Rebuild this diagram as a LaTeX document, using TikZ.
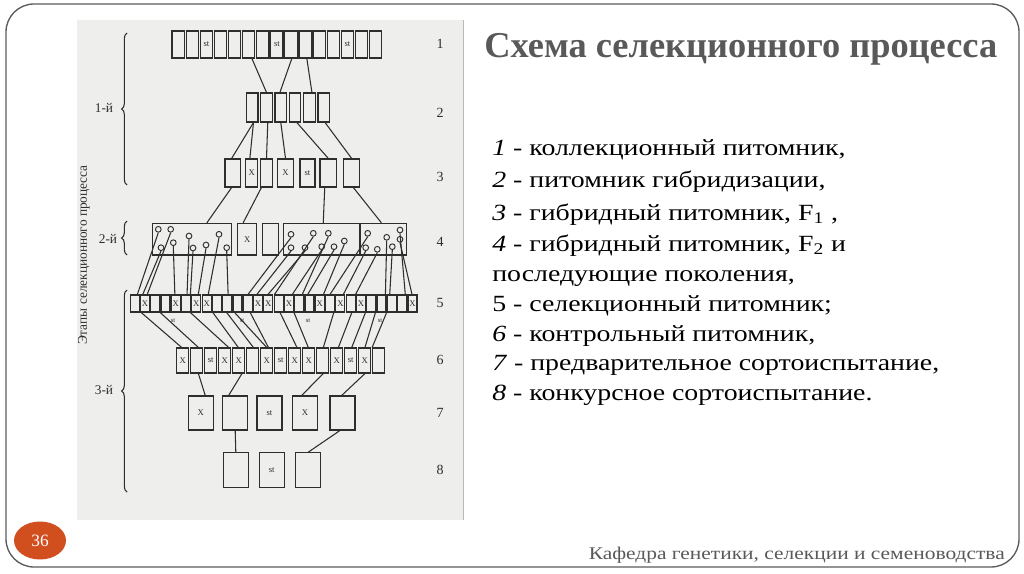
\documentclass[tikz,border=0pt]{standalone}
\usepackage{fontspec}
\setmainfont{Liberation Serif}
\newfontfamily\bodyfont{Liberation Serif}[FakeStretch=1.2]
\usetikzlibrary{calc,decorations.pathreplacing,shapes.geometric}
\definecolor{ink}{HTML}{2E2E2E}
\definecolor{titlegray}{HTML}{595959}
\definecolor{badge}{HTML}{D14E1F}
\definecolor{scanbg}{HTML}{EEEEEC}
\definecolor{framegray}{HTML}{5A5A5A}
\begin{document}
\begin{tikzpicture}[x=0.75pt,y=-0.75pt,
  cell/.style 2 args={draw=ink,line width=0.85pt,inner sep=0pt,minimum width=#1*0.75pt,minimum height=#2*0.75pt,font=\fontsize{6.5}{6.5}\selectfont,text=ink},
  lnk/.style={ink,line width=0.8pt},
  dot/.style={circle,draw=ink,line width=0.7pt,inner sep=0pt,minimum size=4.3pt},
  tiny/.style={font=\fontsize{5}{5}\selectfont,text=ink,inner sep=0pt},
  side/.style={font=\fontsize{10}{10}\selectfont,text=ink,inner sep=1pt},
  brc/.style={ink,line width=0.8pt,decorate,decoration={brace,amplitude=4pt}},
  body/.style={anchor=base west,inner sep=0pt,font=\bodyfont\fontsize{17.4}{20}\selectfont,text=black}
]
\useasboundingbox (0,0) rectangle (1024,574);
% frame and scan area
\draw[framegray,line width=1pt,rounded corners=21pt] (6,4) rectangle (1019,567);
\fill[scanbg] (77,20) rectangle (463,520);
\draw[gray!55,line width=0.6pt] (463,20) -- (463,520);

% row 1
\foreach \i/\t in {1/{},2/{},3/st,4/{},5/{},6/{},7/{},8/st,9/{},10/{},11/{},12/{},13/st,14/{},15/{}}
  \node[cell={12.3}{27}] (a\i) at ({178.2+(\i-1)*14.1},44.5) {\t};
% row 2
\foreach \i in {1,...,6}
  \node[cell={11.5}{29}] (b\i) at ({252.2+(\i-1)*14.3},107.5) {};
% row 3
\node[cell={15.7}{28}] (c1) at (232.8,173) {};
\node[cell={12}{28}] (c2) at (251.7,173) {X};
\node[cell={11.6}{28}] (c3) at (266.5,173) {};
\node[cell={15.6}{28}] (c4) at (285.5,173) {X};
\node[cell={15}{28}] (c5) at (307.5,173) {st};
\node[cell={16.7}{28}] (c6) at (328.3,173) {};
\node[cell={16}{28}] (c7) at (351.3,173) {};
% row 4
\node[cell={79.4}{31.7}] (d1) at (192,239.2) {};
\node[cell={19}{31.7}] (d2) at (247.2,239.2) {X};
\node[cell={15.6}{31.7}] (d3) at (270.5,239.2) {};
\node[cell={76.7}{31.7}] (d4) at (321.7,239.2) {};
\node[cell={46.7}{31.7}] (d5) at (383.3,239.2) {};
\foreach \n/\x/\y in {o1/158.3/229.3, o2/161/247.7, o3/170.7/229.3, o4/173.3/242.7, o5/189/236, o6/193/248, o7/206/245, o8/219/234.3, o9/226.7/247.7, p1/291/234.3, p2/291/247.7, p3/305/247.7, p4/313.3/233.3, p5/321.7/246.7, p6/328.3/233.3, p7/334/246.7, p8/344.3/241, q1/365.7/247.7, q2/367.7/233.3, q3/377.3/249.3, q4/386.7/237.3, q5/392.3/246.7, q6/400/230, q7/400/239.3}
  \node[dot] (\n) at (\x,\y) {};
% row 5
\foreach \i/\t in {1/{},2/X,3/{},4/{},5/X,6/{},7/X,8/X,9/{},10/{},11/{},12/{},13/X,14/X,15/{},16/X,17/{},18/{},19/X,20/{},21/X,22/{},23/X,24/{},25/{},26/{},27/{},28/X}
  \node[cell={9}{17}] (e\i) at ({134.6+(\i-1)*10.29},303.5) {\t};
\foreach \n/\x in {s1/173, s2/242, s3/308, s4/380}
  \node[tiny] (\n) at (\x,321) {st};
% row 6
\foreach \i/\t in {1/X,2/{},3/st,4/X,5/X,6/{},7/X,8/st,9/X,10/X,11/{},12/X,13/st,14/X,15/{}}
  \node[cell={12}{25}] (f\i) at ({182.7+(\i-1)*14},360.5) {\t};
% row 7
\foreach \i/\x/\t in {1/200.8/X,2/235.2/{},3/269.5/st,4/305/X,5/342.5/{}}
  \node[cell={25}{34}] (g\i) at (\x,413) {\t};
% row 8
\foreach \i/\x/\t in {1/235.8/{},2/271.7/st,3/308.3/{}}
  \node[cell={25}{34.6}] (h\i) at (\x,470) {\t};

% connectors between boxes
\foreach \s/\p/\d/\q in {a6/.74/b2/.5, a9/.56/b3/.43, a10/.63/b5/.7,
  b1/.6/c1/.43, b1/.6/c2/.36, b2/.6/c3/.5, b3/.5/c4/.5, b4/.64/c6/.5, b6/.61/c7/.52,
  c1/.43/d1/.685, c3/.1/d2/.3, c6/.3/d4/.52, c7/.62/d5/.46,
  e2/.14/f1/.42, e3/1/f2/.63, e6/.93/f4/.8, e9/.1/f5/.47, e10/.45/f6/.55, e11/.22/f7/.5, e12/.74/f7/.63,
  e15/.64/f9/.67, e16/1/f10/.47, e20/.86/f11/.55, e22/.61/f12/.63, e23/.94/f13/.58, e24/.91/f14/.52, e25/1/f15/0,
  f2/.63/g1/.67, f5/.75/g2/.25, f11/.55/g4/.37, f14/.52/g5/.47,
  g2/.5/h1/.5, g5/.4/h3/.5}
  \draw[lnk] ($(\s.south west)!\p!(\s.south east)$) -- ($(\d.north west)!\q!(\d.north east)$);
% connectors from circles
\foreach \s/\d/\q in {o1/e1/.77, o2/e2/.29, o3/e2/.73, o4/e5/.41, o5/e6/.6, o6/e6/.93, o7/e7/.69, o8/e8/.66, o9/e10/.59,
  p1/e12/.52, p2/e13/.38, p3/e14/.46, p4/e15/.09, p5/e16/.83, p6/e17/.8, p7/e18/.32, p8/e19/.86,
  q2/e20/.49, q1/e21/.79, q3/e22/.98, q4/e25/.88, q5/e26/.29, q6/e27/.81, q7/e28/.46}
  \draw[lnk] (\s.south) -- ($(\d.north west)!\q!(\d.north east)$);

% braces and stage labels
\draw[brc] (127,185) -- (127,33);
\draw[brc] (127,255) -- (127,221);
\draw[brc] (127,492) -- (127,290);
\node[side] (st1) at (104,108) {1-й};
\node[side] (st2) at (108,239) {2-й};
\node[side] (st3) at (104,390) {3-й};
\node[side,rotate=90,font=\fontsize{10}{10}\selectfont] (stages) at (84,255) {Этапы селекционного процесса};
\foreach \n/\y in {1/44,2/113,3/177,4/242,5/303,6/360,7/413,8/470}
  \node[side,font=\fontsize{10.5}{10.5}\selectfont] (num\n) at (440,\y) {\n};

% title and legend
\node[anchor=base west,inner sep=0pt,font=\fontsize{27.3}{30}\selectfont\bfseries,text=titlegray] (title) at (484,58) {Схема селекционного процесса};
\node[body] (l1) at (492,156) {\textit{1} - коллекционный питомник,};
\node[body] (l2) at (492,188) {\textit{2} - питомник гибридизации,};
\node[body] (l3) at (492,220) {\textit{3} - гибридный питомник, F\textsubscript{1} ,};
\node[body] (l4) at (492,251.5) {\textit{4} - гибридный питомник, F\textsubscript{2} и};
\node[body] (l5) at (492,281.5) {последующие поколения,};
\node[body] (l6) at (492,311.5) {5 - селекционный питомник;};
\node[body] (l7) at (492,341.5) {\textit{6} - контрольный питомник,};
\node[body] (l8) at (492,370.5) {\textit{7} - предварительное сортоиспытание,};
\node[body] (l9) at (492,400) {\textit{8} - конкурсное сортоиспытание.};

% footer
\node[ellipse,fill=badge,minimum width=39pt,minimum height=28.5pt,inner sep=0pt,text=white,font=\fontsize{13}{13}\selectfont] (page) at (40,540.5) {36};
\node[anchor=base east,inner sep=0pt,font=\bodyfont\fontsize{13.4}{16}\selectfont,text=titlegray] (foot) at (1005,559) {Кафедра генетики, селекции и семеноводства};
\end{tikzpicture}
\end{document}
